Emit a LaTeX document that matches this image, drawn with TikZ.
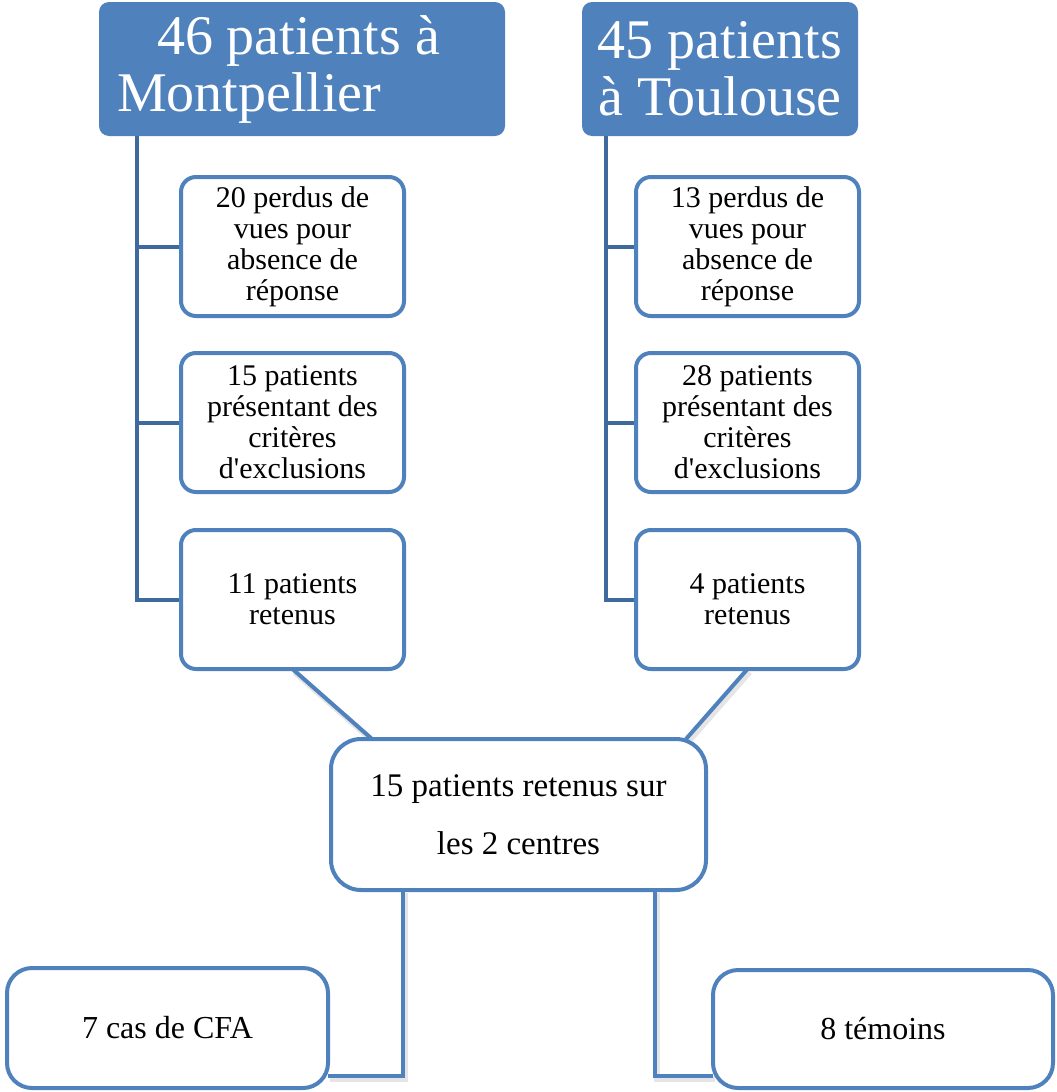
\documentclass[tikz,border=0pt]{standalone}
\usepackage{fontspec}
\setmainfont{Liberation Serif}
\usetikzlibrary{positioning, backgrounds}

\definecolor{boxblue}{RGB}{79,129,189}
\definecolor{spineblue}{HTML}{3F6A9E}

\tikzset{
  head/.style={fill=boxblue, text=white, rounded corners=10pt, outer sep=0pt,
    minimum height=134pt, font=\fontsize{56}{57}\selectfont},
  leaf/.style={draw=boxblue, line width=4pt, fill=white, rounded corners=15pt,
    outer sep=0pt, inner sep=0pt, minimum width=223pt, minimum height=139pt,
    align=center, font=\fontsize{30}{31}\selectfont},
  spine/.style={draw=spineblue, line width=4pt},
  link/.style={draw=boxblue, line width=4pt,
    preaction={draw=black!10, line width=6pt, transform canvas={shift={(2pt,-3pt)}}}}
}

\begin{document}
\begin{tikzpicture}[x=1pt, y=-1pt]
    \useasboundingbox (0,0) rectangle (1057,1092);
    % nodes %
      \node[head, minimum width=406pt, text width=370pt, inner xsep=18pt, align=flush left] (hm) at (302,69)
        {\hspace*{40pt}46 patients à\\Montpellier};
      \node[head, minimum width=276pt, inner sep=0pt, align=center] (ht) at (720,69)
        {45 patients\\à Toulouse};

      \node[leaf] (m1) at (292.5,246.5) {20 perdus de\\vues pour\\absence de\\réponse};
      \node[leaf, below=37pt of m1] (m2) {15 patients\\présentant des\\critères\\d\textquotesingle exclusions};
      \node[leaf, below=38pt of m2] (m3) {11 patients\\retenus};

      \node[leaf, right=232pt of m1] (t1) {13 perdus de\\vues pour\\absence de\\réponse};
      \node[leaf, right=232pt of m2] (t2) {28 patients\\présentant des\\critères\\d\textquotesingle exclusions};
      \node[leaf, right=232pt of m3] (t3) {4 patients\\retenus};

      \node[leaf, rounded corners=30pt, minimum width=375pt, minimum height=151pt,
        font=\fontsize{33}{58}\selectfont] (c) at (518.5,814.5) {15 patients retenus sur\\les 2 centres};

      \node[leaf, rounded corners=25pt, minimum width=321pt, minimum height=120pt,
        font=\fontsize{32}{34}\selectfont] (b1) at (167.5,1028) {7 cas de CFA};
      \node[leaf, rounded corners=25pt, minimum width=340pt, minimum height=118pt,
        font=\fontsize{32}{34}\selectfont] (b2) at (883,1029) {8 témoins};

      \coordinate (ls) at (137,136);
      \coordinate (rs) at (606,136);

      % edges %
      \begin{scope}[on background layer]
      \draw[spine] (ls) |- (m3.west);
      \draw[spine] (ls |- m1.west) -- (m1.west);
      \draw[spine] (ls |- m2.west) -- (m2.west);
      \draw[spine] (rs) |- (t3.west);
      \draw[spine] (rs |- t1.west) -- (t1.west);
      \draw[spine] (rs |- t2.west) -- (t2.west);

      \draw[link] (m3.south) -- ([xshift=41pt]c.north west);
      \draw[link] (t3.south) -- ([xshift=-20pt]c.north east);
      \draw[link] ([xshift=72pt]c.south west) |- ([yshift=12pt]b1.south east);
      \draw[link] ([xshift=-51pt]c.south east) |- ([yshift=12pt]b2.south west);
      \end{scope}
    \end{tikzpicture}
\end{document}
